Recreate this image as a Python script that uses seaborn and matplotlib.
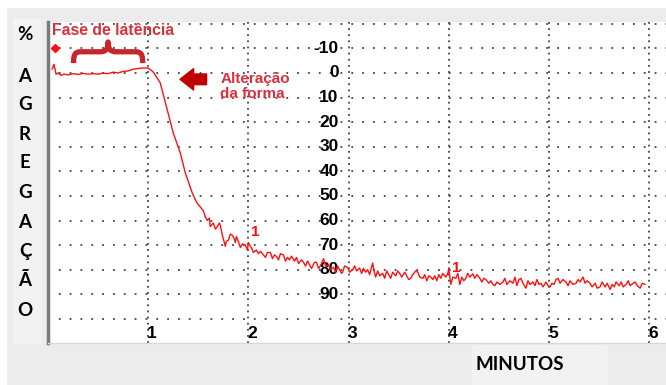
import matplotlib
matplotlib.use("Agg")
import matplotlib.pyplot as plt
import seaborn as sns
from matplotlib.patches import Rectangle, PathPatch
from matplotlib.path import Path

# Aggregation trace (minutes, % aggregation)
minutes = [0.04, 0.06, 0.08, 0.10, 0.13, 0.16, 0.20, 0.25, 0.30, 0.35, 0.40, 0.45,
           0.50, 0.55, 0.60, 0.65, 0.70, 0.75, 0.80, 0.85, 0.90, 0.95, 1.00, 1.05,
           1.12, 1.19, 1.25, 1.32, 1.37, 1.44, 1.47, 1.49, 1.52, 1.55, 1.57, 1.59,
           1.61, 1.62, 1.64, 1.65, 1.67, 1.69, 1.71, 1.72, 1.74, 1.77, 1.78, 1.80,
           1.82, 1.84, 1.86, 1.87, 1.88, 1.90, 1.92, 1.94, 1.97, 1.99, 2.00, 2.02,
           2.03, 2.05, 2.08, 2.10, 2.12, 2.15, 2.17, 2.19, 2.22, 2.24, 2.26, 2.28,
           2.30, 2.32, 2.35, 2.37, 2.39, 2.41, 2.43, 2.46, 2.48, 2.50, 2.53, 2.55,
           2.57, 2.59, 2.61, 2.63, 2.66, 2.68, 2.70, 2.71, 2.73, 2.75, 2.77, 2.80,
           2.82, 2.85, 2.87, 2.89, 2.91, 2.93, 2.94, 2.96, 2.99, 3.01, 3.04, 3.06,
           3.08, 3.11, 3.13, 3.15, 3.17, 3.19, 3.21, 3.24, 3.26, 3.27, 3.29, 3.31,
           3.34, 3.36, 3.38, 3.40, 3.42, 3.44, 3.47, 3.49, 3.51, 3.53, 3.56, 3.58,
           3.60, 3.62, 3.64, 3.67, 3.69, 3.71, 3.74, 3.76, 3.78, 3.80, 3.82, 3.84,
           3.86, 3.88, 3.90, 3.92, 3.94, 3.97, 3.99, 4.00, 4.02, 4.04, 4.07, 4.09,
           4.11, 4.13, 4.15, 4.17, 4.19, 4.21, 4.24, 4.26, 4.28, 4.31, 4.33, 4.35,
           4.37, 4.40, 4.42, 4.44, 4.46, 4.48, 4.51, 4.54, 4.56, 4.58, 4.61, 4.64,
           4.66, 4.68, 4.70, 4.72, 4.74, 4.77, 4.79, 4.81, 4.84, 4.86, 4.88, 4.90,
           4.92, 4.94, 4.97, 4.99, 5.01, 5.03, 5.05, 5.07, 5.09, 5.11, 5.14, 5.17,
           5.19, 5.21, 5.24, 5.27, 5.29, 5.31, 5.34, 5.36, 5.38, 5.41, 5.43, 5.46,
           5.48, 5.51, 5.53, 5.56, 5.58, 5.61, 5.63, 5.65, 5.67, 5.70, 5.72, 5.74,
           5.77, 5.79, 5.81, 5.84, 5.86, 5.88, 5.91, 5.93, 5.96]
aggregation = [-1.5, -3.5, 0.5, 0.0, 1.0, 0.5, 0.8, 0.3, 0.6, 0.2, 0.5, 0.3,
               0.5, 0.1, 0.3, -0.3, 0.0, -0.6, -0.8, -1.5, -1.8, -2.0, -2.0, -0.4,
               4.0, 15.0, 24.4, 32.5, 40.6, 48.8, 51.5, 53.0, 54.5, 56.0, 58.5, 60.0,
               59.0, 62.5, 61.5, 61.0, 63.5, 62.5, 61.0, 62.0, 66.0, 70.5, 68.5, 68.0,
               65.5, 66.0, 67.5, 69.0, 66.5, 68.5, 71.0, 69.5, 70.0, 72.0, 69.0, 70.5,
               71.0, 73.0, 72.0, 73.5, 72.5, 74.0, 75.0, 73.0, 73.0, 75.5, 74.0, 74.6,
               76.0, 73.5, 74.0, 76.5, 75.0, 76.0, 74.5, 76.5, 75.0, 77.5, 76.0, 77.0,
               78.5, 76.5, 78.0, 79.5, 77.0, 77.0, 79.5, 79.0, 77.5, 75.5, 78.5, 78.0,
               80.0, 79.0, 81.0, 78.5, 80.0, 81.5, 81.0, 78.5, 79.0, 81.0, 80.0, 78.5,
               80.5, 79.3, 81.5, 79.5, 81.0, 80.0, 82.0, 77.3, 81.5, 83.0, 80.5, 82.5,
               81.5, 83.5, 80.5, 82.0, 83.5, 81.0, 82.5, 80.5, 81.5, 83.0, 81.0, 82.5,
               84.0, 83.5, 82.0, 80.5, 81.0, 83.0, 83.5, 82.0, 84.5, 82.5, 83.0, 84.0,
               82.5, 84.5, 82.0, 83.5, 81.5, 83.0, 81.5, 79.5, 86.0, 83.0, 83.5, 81.5,
               86.0, 83.0, 84.5, 83.5, 81.5, 83.0, 81.7, 83.5, 82.0, 83.5, 85.0, 83.5,
               84.0, 85.5, 84.5, 86.0, 86.5, 85.0, 86.0, 85.0, 83.5, 86.0, 84.5, 85.5,
               83.0, 86.5, 84.0, 83.5, 85.5, 87.5, 84.5, 86.0, 85.0, 86.5, 84.0, 86.0,
               85.5, 87.0, 85.0, 86.5, 87.0, 85.5, 86.0, 84.0, 83.5, 85.5, 84.0, 85.0,
               86.5, 84.5, 86.0, 85.5, 84.0, 85.0, 83.0, 85.5, 84.5, 85.5, 87.0, 85.5,
               87.5, 87.0, 85.0, 87.0, 85.5, 88.0, 86.0, 87.0, 85.0, 86.5, 85.0, 87.0,
               86.0, 84.5, 86.5, 85.5, 85.0, 86.5, 87.5, 85.5, 86.0]

y_ticks = [-10, 0, 10, 20, 30, 40, 50, 60, 70, 80, 90]
x_ticks = [1, 2, 3, 4, 5, 6]
side_letters = ["%", "A", "G", "R", "E", "G", "A", "Ç", "Ã", "O"]
side_y = [35, 76, 105, 134, 163, 193, 222, 252, 281, 310]

RED_TEXT = "#d8303c"
RED_LINE = "#ff1010"
DARK_RED = "#c00000"

sns.set_style("white")
plt.rcParams["font.family"] = ["Liberation Sans", "DejaVu Sans"]

W, H = 666, 385
fig = plt.figure(figsize=(6.66, 3.85), dpi=100, facecolor="#ececec")

# window chrome
fig.patches.append(Rectangle((0, 1 - 7 / H), 1, 7 / H, transform=fig.transFigure,
                             color="white", zorder=0))
fig.patches.append(Rectangle((0, 0), 6 / W, 1 - 7 / H, transform=fig.transFigure,
                             color="white", zorder=0))
fig.patches.append(Rectangle((13 / W, 42 / H), 27 / W, 1 - 60 / H, transform=fig.transFigure,
                             color="#f2f2f2", zorder=0))
fig.patches.append(Rectangle((472 / W, 0), 135 / W, 40 / H, transform=fig.transFigure,
                             color="#f2f2f2", zorder=0))

ax = fig.add_axes([48 / W, 42 / H, 618 / W, 321 / H])
ax.set_facecolor("white")

sns.lineplot(x=minutes, y=aggregation, ax=ax, color=RED_LINE, linewidth=1.0,
             estimator=None, sort=False, zorder=3)

ax.set_xlim(0, 618 / 100.2)
ax.set_ylim(109.8, -20.7)
ax.set_xticks(x_ticks)
ax.set_yticks([-20] + y_ticks + [100])
ax.set_xticklabels([])
ax.set_yticklabels([])
ax.tick_params(length=0)
ax.set_xlabel("")
ax.set_ylabel("")
ax.xaxis.grid(True, color="#444444", linewidth=1.3, linestyle=(0, (1, 2.4)))
ax.yaxis.grid(True, color="#444444", linewidth=1.3, linestyle=(0, (1, 5)))
ax.set_axisbelow(True)

for side in ["top", "right"]:
    ax.spines[side].set_visible(False)
ax.spines["left"].set_color("#7a7a7a")
ax.spines["left"].set_linewidth(2.5)
ax.spines["bottom"].set_color("#d8d8d8")
ax.spines["bottom"].set_linewidth(1.0)

# tick labels drawn inside the plot
for v in y_ticks:
    ax.text(2.9, v, str(v), ha="right", va="center", fontsize=12.5,
            fontweight="bold", color="black", zorder=2)
for m in x_ticks:
    ax.text(m + 0.04, 106, str(m), ha="center", va="center", fontsize=12.5,
            fontweight="bold", color="black", zorder=2)

# annotations
ax.text(0.04, -17.3, "Fase de latência", ha="left", va="center", fontsize=11.3,
        fontweight="bold", color=RED_TEXT, zorder=4)
ax.plot([0.07], [-10], marker="D", markersize=4.5, color=RED_LINE, zorder=4)

brace = Path(
    [(0.255, -4.0), (0.255, -7.6), (0.27, -8.6), (0.33, -8.6),
     (0.52, -8.6), (0.575, -8.6), (0.60, -9.6), (0.60, -12.6),
     (0.60, -9.6), (0.625, -8.6), (0.68, -8.6),
     (0.87, -8.6), (0.93, -8.6), (0.945, -7.6), (0.945, -4.0)],
    [Path.MOVETO, Path.CURVE4, Path.CURVE4, Path.CURVE4,
     Path.LINETO, Path.CURVE4, Path.CURVE4, Path.CURVE4,
     Path.CURVE4, Path.CURVE4, Path.CURVE4,
     Path.LINETO, Path.CURVE4, Path.CURVE4, Path.CURVE4])
ax.add_patch(PathPatch(brace, facecolor="none", edgecolor="#c8262e", linewidth=3.8,
                       capstyle="butt", joinstyle="round", zorder=4))

ax.annotate("", xy=(1.29, 2.6), xytext=(1.61, 2.6),
            arrowprops=dict(arrowstyle="simple,head_length=0.7,head_width=1.1,tail_width=0.55",
                            color=DARK_RED, mutation_scale=14), zorder=4)
ax.text(1.72, 5.6, "Alteração\nda forma", ha="left", va="center", fontsize=11,
        fontweight="bold", color=RED_TEXT, linespacing=1.05, zorder=4)

ax.text(2.07, 64.5, "1", ha="center", va="center", fontsize=11,
        fontweight="bold", color=RED_LINE, zorder=4)
ax.text(4.07, 79.3, "1", ha="center", va="center", fontsize=11,
        fontweight="bold", color=RED_LINE, zorder=4)

# side labels
for letter, yp in zip(side_letters, side_y):
    fig.text(25 / W, 1 - yp / H, letter, ha="center", va="center", fontsize=13.5,
             fontweight="bold", family=["Lato", "DejaVu Sans"], color="black")
fig.text(520 / W, 1 - 365 / H, "MINUTOS", ha="center", va="center", fontsize=13.5,
         fontweight="bold", family=["Lato", "DejaVu Sans"], color="black")

fig.savefig("out.png", dpi=100, facecolor=fig.get_facecolor())
